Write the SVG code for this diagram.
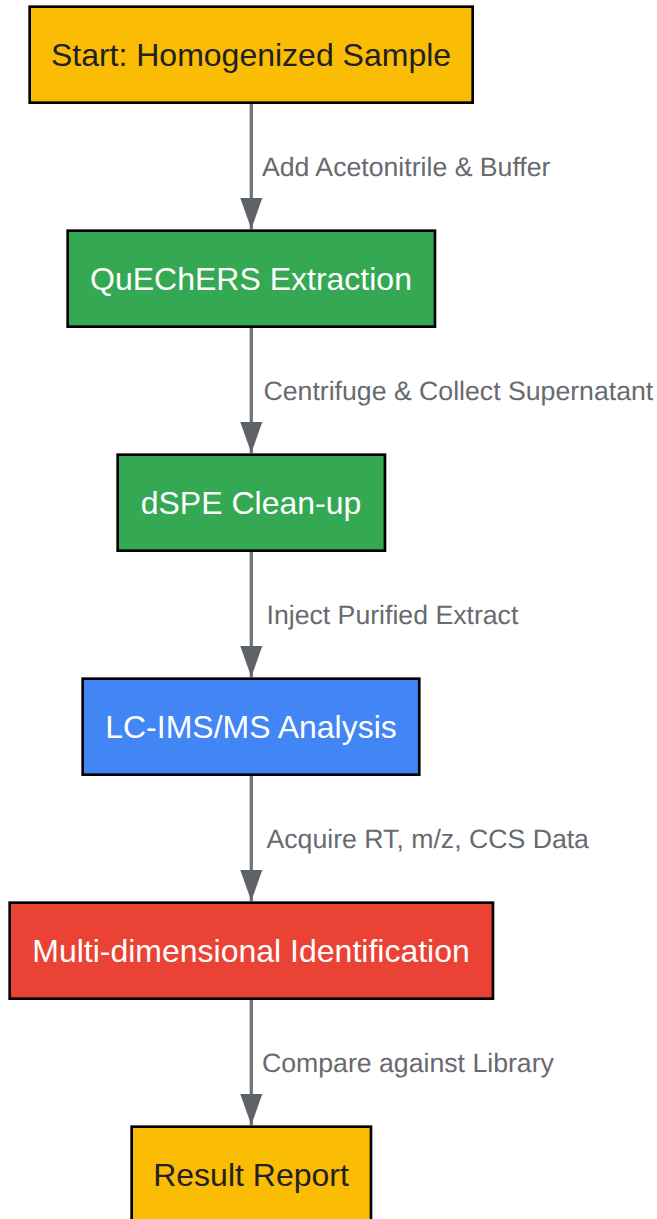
<svg xmlns="http://www.w3.org/2000/svg" width="657" height="1219" viewBox="0 0 657 1219">
<style>
.n{stroke:#000;stroke-width:2.67}
.t{font-family:"Liberation Sans",Arial,sans-serif;font-size:32px;text-anchor:middle}
.l{font-family:"Liberation Sans",Arial,sans-serif;font-size:26.67px;fill:#5f6368;text-rendering:geometricPrecision;opacity:.95}
.c{stroke:#70757a;stroke-width:3.33;fill:none}
</style>
<defs><marker id="a" markerUnits="userSpaceOnUse" markerWidth="32" markerHeight="24" refX="31" refY="12" orient="auto" viewBox="0 0 32 24"><path d="M0 1L31 12L0 23Z" fill="#5f6368"/></marker></defs>
<g id="connectors">
<path class="c" d="M251.3 103V229" marker-end="url(#a)"/>
<path class="c" d="M251.3 327V453" marker-end="url(#a)"/>
<path class="c" d="M251.3 551V677" marker-end="url(#a)"/>
<path class="c" d="M251.3 775V901" marker-end="url(#a)"/>
<path class="c" d="M251.3 999V1125" marker-end="url(#a)"/>
</g>
<g id="labels">
<text class="l" x="262" y="176">Add Acetonitrile &amp; Buffer</text>
<text class="l" x="263.500" y="400">Centrifuge &amp; Collect Supernatant</text>
<text class="l" x="266.500" y="624">Inject Purified Extract</text>
<text class="l" x="266.500" y="848">Acquire RT, m/z, CCS Data</text>
<text class="l" x="262" y="1072">Compare against Library</text>
</g>
<g id="n1"><rect class="n" x="29.670" y="6.670" width="443" height="96" fill="#fbbc04"/><text class="t" x="251" y="66" fill="#202124">Start: Homogenized Sample</text></g>
<g id="n2"><rect class="n" x="67.670" y="230.670" width="367.300" height="96" fill="#34a853"/><text class="t" x="251" y="290" fill="#fff">QuEChERS Extraction</text></g>
<g id="n3"><rect class="n" x="117.670" y="454.670" width="267.300" height="96" fill="#34a853"/><text class="t" x="251" y="514" fill="#fff">dSPE Clean-up</text></g>
<g id="n4"><rect class="n" x="82.670" y="678.670" width="336.600" height="96" fill="#4285f4"/><text class="t" x="251" y="738" fill="#fff">LC-IMS/MS Analysis</text></g>
<g id="n5"><rect class="n" x="9.670" y="902.670" width="483.300" height="96" fill="#ea4335"/><text class="t" x="251" y="962" fill="#fff">Multi-dimensional Identification</text></g>
<g id="n6"><rect class="n" x="131.670" y="1126.670" width="239.300" height="96" fill="#fbbc04"/><text class="t" x="251" y="1186" fill="#202124">Result Report</text></g>
</svg>
